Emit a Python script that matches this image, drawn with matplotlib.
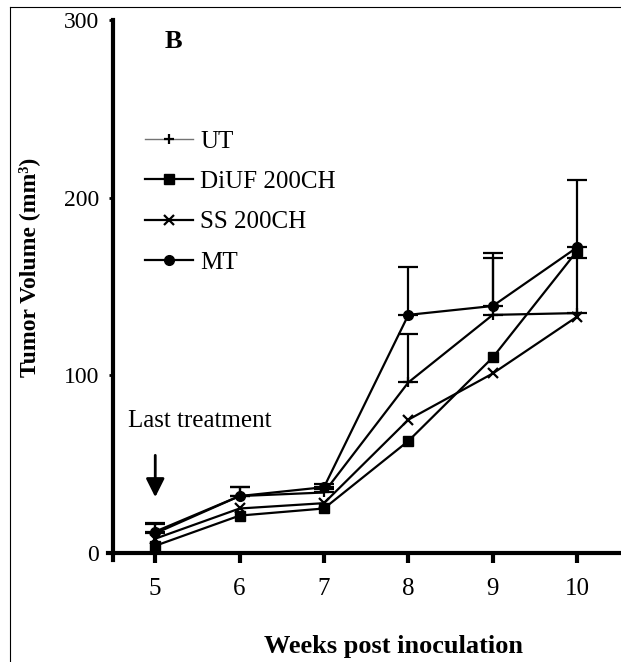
import matplotlib
matplotlib.use("Agg")
import matplotlib.pyplot as plt
from matplotlib.lines import Line2D
import numpy as np

# ---- data ----
weeks = [5, 6, 7, 8, 9, 10]
ut = [11, 32, 34, 96, 134, 135]
diuf = [4, 21, 25, 63, 110, 170]
ss = [8, 25, 28, 75, 101, 133]
mt = [12, 32, 37, 134, 139, 172]
mt_err = [5, 5, 2, 27, 30, 38]
ut_err = [5, 5, 2, 27, 32, 31]
series_labels = ["UT", "DiUF 200CH", "SS 200CH", "MT"]
xticks = [5, 6, 7, 8, 9, 10]
yticks = [0, 100, 200, 300]

plt.rcParams['font.family'] = ['Liberation Serif', 'DejaVu Serif']

fig = plt.figure(figsize=(6.21, 6.62), dpi=100)
# axes extends slightly past the spine crossing so the spines cross
ax = fig.add_axes([108/621, 102/662, 513/621, 540/662])

lw = 1.6
zeros = np.zeros(len(weeks))
ax.errorbar(weeks, mt, yerr=[zeros, mt_err], fmt='none', ecolor='black',
            elinewidth=1.6, capsize=7, capthick=1.6, zorder=2)
ax.errorbar(weeks, ut, yerr=[zeros, ut_err], fmt='none', ecolor='black',
            elinewidth=1.6, capsize=7, capthick=1.6, zorder=2)

ax.plot(weeks, ut, color='black', lw=lw, marker='+', ms=7, mew=1.6, zorder=3)
ax.plot(weeks, diuf, color='black', lw=lw, marker='s', ms=6.5, zorder=3)
ax.plot(weeks, ss, color='black', lw=lw, marker='x', ms=7, mew=1.6, zorder=3)
ax.plot(weeks, mt, color='black', lw=lw, marker='o', ms=7, zorder=3)

ax.set_xlim(4.44, 10.52)
ax.set_ylim(-4, 300)
ax.spines['left'].set_position(('data', 4.5))
ax.spines['bottom'].set_position(('data', 0))
ax.set_xticks(xticks)
ax.set_xticklabels([str(t) for t in xticks])
ax.set_yticks(yticks)
ax.set_yticklabels([str(t) for t in yticks])

for s in ['top', 'right']:
    ax.spines[s].set_visible(False)
for s in ['left', 'bottom']:
    ax.spines[s].set_linewidth(3)
ax.tick_params(axis='x', length=7, width=3, pad=11, labelsize=18, direction='out')
ax.tick_params(axis='y', length=3, width=2, pad=7, labelsize=17, direction='out')

ax.set_xlabel("Weeks post inoculation", fontsize=19, fontweight='bold', va='center')
ax.set_ylabel("Tumor Volume (mm³)", fontsize=17, fontweight='bold', va='center')
ax.xaxis.set_label_coords(394/621, 15/662, transform=fig.transFigure)
ax.yaxis.set_label_coords(29/621, (662-267)/662, transform=fig.transFigure)

# legend
handles = [
    Line2D([], [], color='0.45', lw=1.0, marker='+', ms=7, mew=1.6, mec='black'),
    Line2D([], [], color='black', lw=lw, marker='s', ms=6.5),
    Line2D([], [], color='black', lw=lw, marker='x', ms=7, mew=1.6),
    Line2D([], [], color='black', lw=lw, marker='o', ms=7),
]
ax.legend(handles, series_labels, loc='upper left',
          bbox_to_anchor=(145/621, (662-130)/662), bbox_transform=fig.transFigure,
          frameon=False, fontsize=18, handlelength=1.92, handletextpad=0.28,
          labelspacing=0.72, borderpad=0, borderaxespad=0)

fig.text(173/621, (662-42)/662, "B", fontsize=19, fontweight='bold',
         ha='center', va='center')

ax.annotate("", xy=(5, 29.8), xytext=(5, 56.5),
            arrowprops=dict(arrowstyle='-|>', lw=2, color='black', mutation_scale=28))
ax.text(5.53, 74.3, "Last treatment", fontsize=18, ha='center', va='center')

# figure border (left and top)
fig.add_artist(Line2D([10/621, 10/621], [0, 655/662], color='black', lw=0.8,
                      transform=fig.transFigure))
fig.add_artist(Line2D([10/621, 1], [655/662, 655/662], color='black', lw=0.8,
                      transform=fig.transFigure))

fig.savefig("out.png", dpi=100)
